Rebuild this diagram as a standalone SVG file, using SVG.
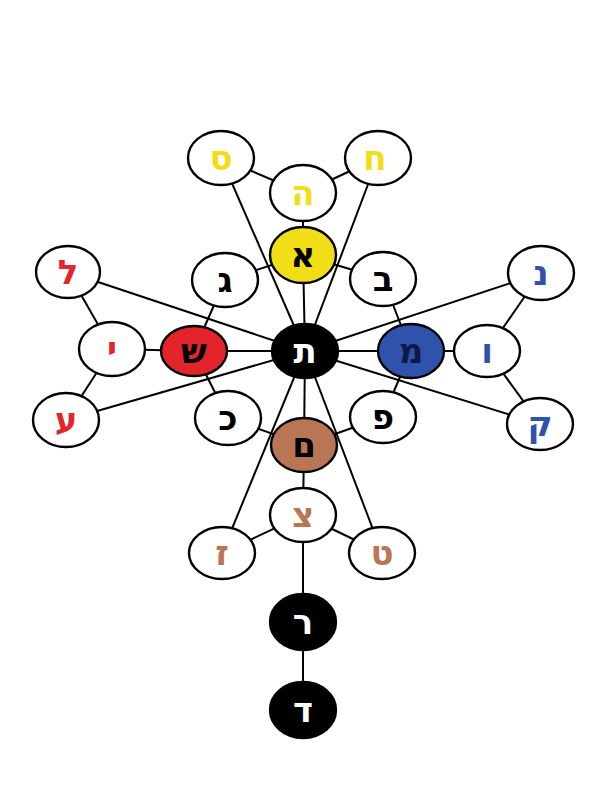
<svg xmlns="http://www.w3.org/2000/svg" width="594" height="800" viewBox="0 0 594 800">
<style>
.e{stroke:#000;stroke-width:2.4}
.w{fill:#fff}
.t{font-family:"DejaVu Sans","Liberation Serif",sans-serif;font-weight:bold;font-size:34px;text-anchor:middle}
.c line{stroke:#000;stroke-width:2}
.y{fill:#f2de16}.r{fill:#e3242b}.b{fill:#2f52aa}.br{fill:#b97654}.k{fill:#000}.wt{fill:#fff}
</style>
<rect width="594" height="800" fill="#fff"/>
<g class="c" id="connectors">
<line x1="221" y1="158" x2="303" y2="193"/>
<line x1="378" y1="158" x2="303" y2="193"/>
<line x1="303" y1="193" x2="303" y2="255"/>
<line x1="221" y1="158" x2="305" y2="351"/>
<line x1="378" y1="158" x2="305" y2="351"/>
<line x1="225" y1="280" x2="303" y2="255"/>
<line x1="383" y1="279" x2="303" y2="255"/>
<line x1="303" y1="255" x2="305" y2="351"/>
<line x1="225" y1="280" x2="194" y2="351"/>
<line x1="68" y1="272" x2="305" y2="351"/>
<line x1="68" y1="272" x2="112" y2="349"/>
<line x1="112" y1="349" x2="194" y2="351"/>
<line x1="112" y1="349" x2="66" y2="420"/>
<line x1="66" y1="420" x2="305" y2="351"/>
<line x1="194" y1="351" x2="305" y2="351"/>
<line x1="194" y1="351" x2="228" y2="418"/>
<line x1="228" y1="418" x2="304" y2="445"/>
<line x1="383" y1="279" x2="411" y2="351"/>
<line x1="541" y1="273" x2="305" y2="351"/>
<line x1="541" y1="273" x2="487" y2="351"/>
<line x1="487" y1="351" x2="411" y2="351"/>
<line x1="411" y1="351" x2="305" y2="351"/>
<line x1="487" y1="351" x2="540" y2="424"/>
<line x1="540" y1="424" x2="305" y2="351"/>
<line x1="383" y1="417" x2="411" y2="351"/>
<line x1="383" y1="417" x2="304" y2="445"/>
<line x1="305" y1="351" x2="304" y2="445"/>
<line x1="304" y1="445" x2="303" y2="515"/>
<line x1="305" y1="351" x2="222" y2="553"/>
<line x1="305" y1="351" x2="382" y2="553"/>
<line x1="303" y1="515" x2="222" y2="553"/>
<line x1="303" y1="515" x2="382" y2="553"/>
<line x1="303" y1="515" x2="303" y2="710"/>
</g>
<g id="n-samekh"><ellipse class="e w" cx="221" cy="158" rx="33" ry="27"/><text class="t y" x="221" y="170">ס</text></g>
<g id="n-het"><ellipse class="e w" cx="378" cy="158" rx="33" ry="27"/><text class="t y" x="375" y="170">ח</text></g>
<g id="n-he"><ellipse class="e w" cx="303" cy="193" rx="33" ry="28"/><text class="t y" x="303" y="205">ה</text></g>
<g id="n-alef"><ellipse class="e y" cx="303" cy="255" rx="33" ry="28"/><text class="t k" x="303" y="267">א</text></g>
<g id="n-gimel"><ellipse class="e w" cx="225" cy="280" rx="33" ry="27"/><text class="t k" x="225" y="292">ג</text></g>
<g id="n-bet"><ellipse class="e w" cx="383" cy="279" rx="33" ry="27"/><text class="t k" x="383" y="291">ב</text></g>
<g id="n-lamed"><ellipse class="e w" cx="68" cy="272" rx="32" ry="26"/><text class="t r" x="68" y="284">ל</text></g>
<g id="n-yod"><ellipse class="e w" cx="112" cy="349" rx="33" ry="27"/><text class="t r" x="112" y="361">י</text></g>
<g id="n-shin"><ellipse class="e r" cx="194" cy="351" rx="33" ry="25"/><text class="t k" x="194" y="363">ש</text></g>
<g id="n-ayin"><ellipse class="e w" cx="66" cy="420" rx="33" ry="27"/><text class="t r" x="66" y="432">ע</text></g>
<g id="n-kaf"><ellipse class="e w" cx="228" cy="418" rx="33" ry="27"/><text class="t k" x="228" y="430">כ</text></g>
<g id="n-tav"><ellipse class="e k" cx="305" cy="351" rx="33" ry="27"/><text class="t wt" x="305" y="363">ת</text></g>
<g id="n-nun"><ellipse class="e w" cx="541" cy="273" rx="33" ry="27"/><text class="t b" x="541" y="285">נ</text></g>
<g id="n-mem"><ellipse class="e b" cx="411" cy="351" rx="33" ry="27"/><text class="t" fill="#0c1a45" x="411" y="363">מ</text></g>
<g id="n-vav"><ellipse class="e w" cx="487" cy="351" rx="33" ry="26"/><text class="t b" x="487" y="363">ו</text></g>
<g id="n-qof"><ellipse class="e w" cx="540" cy="424" rx="33" ry="26"/><text class="t b" x="540" y="436">ק</text></g>
<g id="n-pe"><ellipse class="e w" cx="383" cy="417" rx="33" ry="26"/><text class="t k" x="383" y="429">פ</text></g>
<g id="n-mem-final"><ellipse class="e br" cx="304" cy="445" rx="33" ry="27"/><text class="t k" x="304" y="457">ם</text></g>
<g id="n-tsadi"><ellipse class="e w" cx="303" cy="515" rx="33" ry="27"/><text class="t br" x="303" y="527">צ</text></g>
<g id="n-zayin"><ellipse class="e w" cx="222" cy="553" rx="33" ry="26"/><text class="t br" x="222" y="565">ז</text></g>
<g id="n-tet"><ellipse class="e w" cx="382" cy="553" rx="33" ry="26"/><text class="t br" x="382" y="565">ט</text></g>
<g id="n-resh"><ellipse class="e k" cx="303" cy="622" rx="33" ry="28"/><text class="t wt" x="303" y="634">ר</text></g>
<g id="n-dalet"><ellipse class="e k" cx="303" cy="710" rx="33" ry="28"/><text class="t wt" x="303" y="722">ד</text></g>
</svg>
